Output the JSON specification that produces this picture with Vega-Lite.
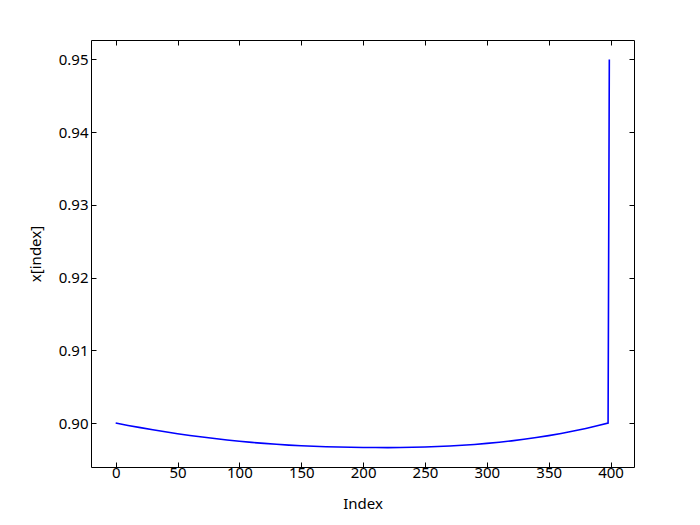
{
  "$schema": "https://vega.github.io/schema/vega-lite/v6.json",
  "width": 543,
  "height": 427,
  "autosize": {"type": "none"},
  "padding": {"left": 91, "top": 40, "right": 66, "bottom": 58},
  "background": "white",
  "config": {
    "view": {"stroke": "#000000", "strokeWidth": 1},
    "font": "Noto Sans",
    "axis": {
      "grid": false,
      "domain": false,
      "tickColor": "#000000",
      "tickSize": -5,
      "tickWidth": 1,
      "labelFont": "Noto Sans",
      "labelFontSize": 15,
      "labelColor": "#000000",
      "titleFont": "Noto Sans",
      "titleFontSize": 15,
      "titleFontWeight": "normal",
      "titleColor": "#000000"
    }
  },
  "data": {
    "values": [
      {"i": 0, "v": 0.9},
      {"i": 10, "v": 0.899674},
      {"i": 20, "v": 0.899365},
      {"i": 30, "v": 0.899073},
      {"i": 40, "v": 0.898798},
      {"i": 50, "v": 0.898539},
      {"i": 60, "v": 0.898298},
      {"i": 70, "v": 0.898072},
      {"i": 80, "v": 0.897864},
      {"i": 90, "v": 0.897672},
      {"i": 100, "v": 0.897498},
      {"i": 110, "v": 0.89734},
      {"i": 120, "v": 0.897199},
      {"i": 130, "v": 0.897074},
      {"i": 140, "v": 0.896968},
      {"i": 150, "v": 0.896877},
      {"i": 160, "v": 0.896803},
      {"i": 170, "v": 0.896745},
      {"i": 180, "v": 0.896705},
      {"i": 190, "v": 0.89667},
      {"i": 200, "v": 0.896642},
      {"i": 210, "v": 0.896628},
      {"i": 220, "v": 0.896625},
      {"i": 230, "v": 0.896637},
      {"i": 240, "v": 0.896663},
      {"i": 250, "v": 0.896705},
      {"i": 260, "v": 0.896765},
      {"i": 270, "v": 0.896843},
      {"i": 280, "v": 0.896941},
      {"i": 290, "v": 0.897059},
      {"i": 300, "v": 0.897199},
      {"i": 310, "v": 0.897362},
      {"i": 320, "v": 0.897549},
      {"i": 330, "v": 0.897762},
      {"i": 340, "v": 0.898002},
      {"i": 350, "v": 0.898271},
      {"i": 360, "v": 0.898568},
      {"i": 370, "v": 0.898897},
      {"i": 380, "v": 0.89926},
      {"i": 390, "v": 0.899657},
      {"i": 398, "v": 0.9},
      {"i": 399, "v": 0.95}
    ]
  },
  "layer": [
    {
      "mark": {"type": "line", "color": "#0000ff", "strokeWidth": 1.6, "clip": true},
      "encoding": {
        "x": {
          "field": "i", "type": "quantitative",
          "scale": {"domain": [-19.95, 418.95], "nice": false, "zero": false},
          "axis": {"orient": "bottom", "title": "Index", "values": [0, 50, 100, 150, 200, 250, 300, 350, 400], "labelPadding": 3, "titlePadding": 16}
        },
        "y": {
          "field": "v", "type": "quantitative",
          "scale": {"domain": [0.893956, 0.952669], "nice": false, "zero": false},
          "axis": {"orient": "left", "title": "x[index]", "values": [0.9, 0.91, 0.92, 0.93, 0.94, 0.95], "format": ".2f", "labelPadding": 8, "titlePadding": 15}
        }
      }
    },
    {
      "mark": {"type": "line", "strokeOpacity": 0},
      "encoding": {
        "x": {
          "field": "i", "type": "quantitative",
          "scale": {"domain": [-19.95, 418.95], "nice": false, "zero": false},
          "axis": {"orient": "top", "title": null, "labels": false, "values": [0, 50, 100, 150, 200, 250, 300, 350, 400]}
        },
        "y": {
          "field": "v", "type": "quantitative",
          "scale": {"domain": [0.893956, 0.952669], "nice": false, "zero": false},
          "axis": {"orient": "right", "title": null, "labels": false, "values": [0.9, 0.91, 0.92, 0.93, 0.94, 0.95]}
        }
      }
    }
  ],
  "resolve": {"axis": {"x": "independent", "y": "independent"}}
}
